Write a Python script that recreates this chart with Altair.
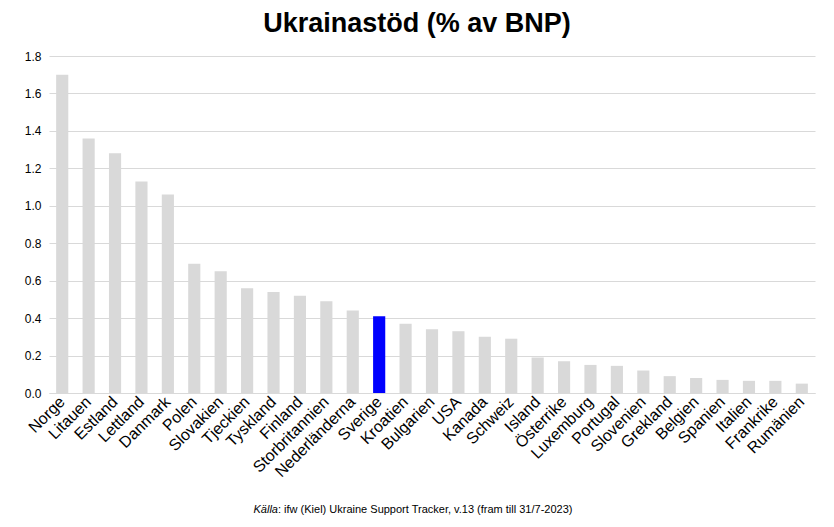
import altair as alt
import pandas as pd

countries = ["Norge", "Litauen", "Estland", "Lettland", "Danmark", "Polen", "Slovakien",
             "Tjeckien", "Tyskland", "Finland", "Storbritannien", "Nederländerna", "Sverige",
             "Kroatien", "Bulgarien", "USA", "Kanada", "Schweiz", "Island", "Österrike",
             "Luxemburg", "Portugal", "Slovenien", "Grekland", "Belgien", "Spanien",
             "Italien", "Frankrike", "Rumänien"]
values = [1.70, 1.36, 1.28, 1.13, 1.06, 0.69, 0.65, 0.56, 0.54, 0.52, 0.49, 0.44, 0.41,
          0.37, 0.34, 0.33, 0.30, 0.29, 0.19, 0.17, 0.15, 0.145, 0.12, 0.09, 0.08, 0.07,
          0.065, 0.065, 0.05]
highlight = "Sverige"

df = pd.DataFrame({"land": countries, "varde": values})
FONT = "Liberation Sans"

bars = alt.Chart(df).mark_bar().encode(
    x=alt.X("land:N", sort=countries,
            scale=alt.Scale(paddingInner=0.54),
            axis=alt.Axis(title=None, labelAngle=-45, labelAlign="right", labelBaseline="middle",
                          labelFontSize=16, labelFont=FONT, labelColor="#000000",
                          ticks=False, domain=True, domainColor="#d9d9d9", labelPadding=6)),
    y=alt.Y("varde:Q", scale=alt.Scale(domain=[0, 1.8]),
            axis=alt.Axis(title=None, values=[0, 0.2, 0.4, 0.6, 0.8, 1.0, 1.2, 1.4, 1.6, 1.8],
                          format=".1f", labelFontSize=12, labelFont=FONT, labelColor="#000000",
                          ticks=False, domain=False, gridColor="#d9d9d9", labelPadding=8)),
    color=alt.condition(alt.datum.land == highlight, alt.value("#0000ff"), alt.value("#d9d9d9")),
)

src1 = alt.Chart(pd.DataFrame({"t": ["Källa"]})).mark_text(
    align="right", baseline="middle", fontSize=11, font=FONT, fontStyle="italic", color="#000000"
).encode(text="t:N", x=alt.value(229), y=alt.value(454))

src2 = alt.Chart(pd.DataFrame({"t": [": ifw (Kiel) Ukraine Support Tracker, v.13 (fram till 31/7-2023)"]})).mark_text(
    align="left", baseline="middle", fontSize=11, font=FONT, color="#000000"
).encode(text="t:N", x=alt.value(229), y=alt.value(454))

chart = alt.layer(bars, src1, src2).properties(
    width=766, height=337,
    title=alt.TitleParams("Ukrainastöd (% av BNP)", font=FONT, fontSize=27, fontWeight="bold",
                          color="#000000", anchor="middle", dx=-15, offset=12),
    autosize=alt.AutoSizeParams(type="none"),
    padding={"left": 41, "top": 48, "right": 10, "bottom": 126},
).configure_view(stroke=None).configure_axis(gridWidth=1)

chart.save("out.html", embed_options={"renderer": "svg", "actions": False})
